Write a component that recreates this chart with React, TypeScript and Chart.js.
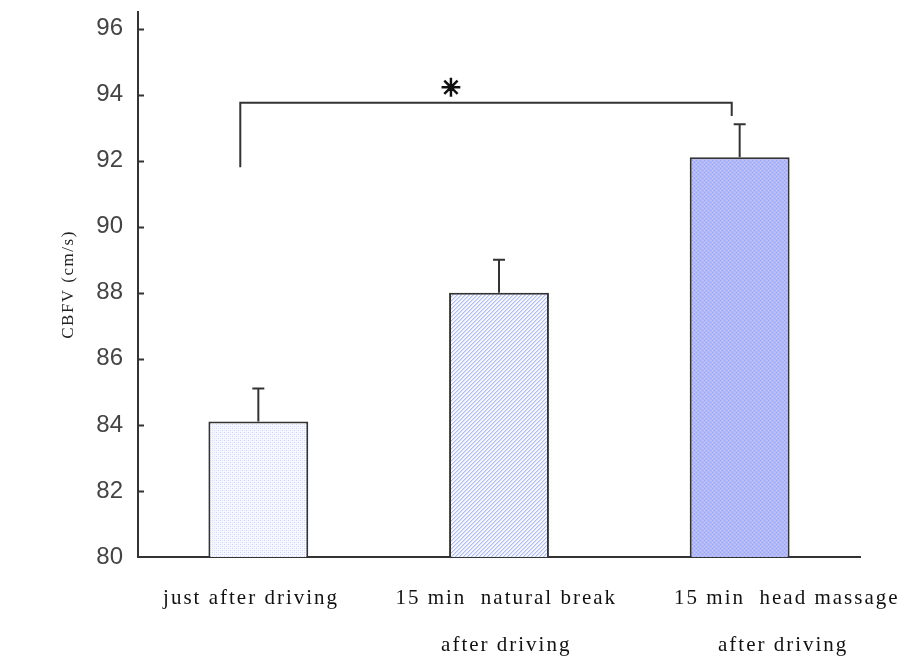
import React, { useEffect, useRef } from 'react';
import { Chart, registerables } from 'chart.js';

Chart.register(...registerables);

// ---- data ----
const categoryLabels: string[][] = [
  ['just after driving'],
  ['15 min  natural break', 'after driving'],
  ['15 min  head massage', 'after driving'],
];
const meanValues = [84.1, 88.0, 92.1];
const errorValues = [1.0, 1.0, 1.0];
const yTickValues = [80, 82, 84, 86, 88, 90, 92, 94, 96];
const yMin = 80;
const yMax = 96.5;
const bracketFromIndex = 0;
const bracketToIndex = 2;
const bracketLeftValue = 91.8;
const bracketTopValue = 93.75;
const bracketRightValue = 93.35;
const starValue = 94.15;
const starText = '✳';
const yTitle = 'CBFV (cm/s)';

// ---- style ----
const AXIS = '#333333';
// leading / trailing spaces per label line (visual nudges)
const LABEL_PAD: number[][][] = [
  [[0, 2]],
  [[2, 0], [2, 0]],
  [[13, 0], [12, 0]],
];
const BRACKET_LEFT_SHIFT = -0.075;
const BRACKET_RIGHT_SHIFT = -0.033;
const STAR_POS = 0.8;

function makePattern(kind: string): CanvasPattern | string {
  const c = document.createElement('canvas');
  const ctx = c.getContext('2d');
  if (!ctx) return '#eee';
  if (kind === 'dots') {
    c.width = 4; c.height = 4;
    ctx.fillStyle = '#f7f8fe';
    ctx.fillRect(0, 0, 4, 4);
    ctx.fillStyle = '#cfd4f1';
    ctx.fillRect(0, 0, 1, 1);
    ctx.fillRect(2, 2, 1, 1);
    ctx.fillStyle = '#e4e7f8';
    ctx.fillRect(2, 0, 1, 1);
    ctx.fillRect(0, 2, 1, 1);
  } else if (kind === 'diag') {
    c.width = 4; c.height = 4;
    ctx.fillStyle = '#f7f8ff';
    ctx.fillRect(0, 0, 4, 4);
    ctx.fillStyle = '#aebcf0';
    for (let i = 0; i < 4; i++) {
      ctx.fillRect(i, 3 - i, 1, 1);
    }
    ctx.fillStyle = '#d6ddf8';
    for (let i = 0; i < 4; i++) {
      ctx.fillRect((i + 1) % 4, 3 - i, 1, 1);
    }
  } else {
    c.width = 4; c.height = 4;
    ctx.fillStyle = '#b0baf6';
    ctx.fillRect(0, 0, 4, 4);
    ctx.fillStyle = '#93a3f2';
    ctx.fillRect(0, 0, 1, 1);
    ctx.fillRect(2, 2, 1, 1);
    ctx.fillStyle = '#c7c4f7';
    ctx.fillRect(2, 0, 1, 1);
    ctx.fillRect(0, 2, 1, 1);
  }
  const p = ctx.createPattern(c, 'repeat');
  return p || '#eee';
}

const overlayPlugin = {
  id: 'overlay',
  beforeDraw(chart: any) {
    const xs = chart.scales.x;
    const ys = chart.scales.y;
    if (xs && !xs.__ls) {
      const orig = xs.drawLabels.bind(xs);
      xs.drawLabels = (area: any) => {
        const c = chart.ctx as any;
        c.save();
        c.letterSpacing = '2px';
        orig(area);
        c.restore();
      };
      xs.__ls = true;
    }
    if (ys && !ys.__ls) {
      const origT = ys.drawTitle.bind(ys);
      ys.drawTitle = (...args: any[]) => {
        const c = chart.ctx as any;
        c.save();
        c.letterSpacing = '1.5px';
        origT(...args);
        c.restore();
      };
      ys.__ls = true;
    }
  },
  afterDatasetsDraw(chart: any) {
    const ctx = chart.ctx;
    const xs = chart.scales.x;
    const ys = chart.scales.y;
    const meta = chart.getDatasetMeta(0);
    ctx.save();
    ctx.strokeStyle = AXIS;
    ctx.lineWidth = 2;
    // inward tick marks on y axis
    const ax = chart.chartArea.left;
    yTickValues.forEach((v) => {
      if (v === yMin) return;
      const py = Math.round(ys.getPixelForValue(v)) + 0.5;
      ctx.beginPath();
      ctx.moveTo(ax, py);
      ctx.lineTo(ax + 6, py);
      ctx.stroke();
    });
    // error bars (upper only)
    meta.data.forEach((bar: any, i: number) => {
      const x = bar.x;
      const yTop = ys.getPixelForValue(meanValues[i]);
      const yErr = ys.getPixelForValue(meanValues[i] + errorValues[i]);
      ctx.beginPath();
      ctx.moveTo(x, yTop);
      ctx.lineTo(x, yErr);
      ctx.moveTo(x - 6, yErr);
      ctx.lineTo(x + 6, yErr);
      ctx.stroke();
    });
    // significance bracket
    const lx = xs.getPixelForValue(bracketFromIndex + BRACKET_LEFT_SHIFT);
    const rx = xs.getPixelForValue(bracketToIndex + BRACKET_RIGHT_SHIFT);
    const ly = ys.getPixelForValue(bracketLeftValue);
    const ty = ys.getPixelForValue(bracketTopValue);
    const ry = ys.getPixelForValue(bracketRightValue);
    ctx.beginPath();
    ctx.moveTo(lx, ly);
    ctx.lineTo(lx, ty);
    ctx.lineTo(rx, ty);
    ctx.lineTo(rx, ry);
    ctx.stroke();
    // asterisk
    ctx.fillStyle = '#111';
    ctx.strokeStyle = '#111';
    ctx.lineWidth = 1.3;
    ctx.font = 'bold 24px "DejaVu Sans"';
    ctx.textAlign = 'center';
    ctx.textBaseline = 'middle';
    const sx = xs.getPixelForValue(STAR_POS);
    const sy = ys.getPixelForValue(starValue);
    ctx.fillText(starText, sx, sy);
    ctx.strokeText(starText, sx, sy);
    ctx.restore();
  },
};

export default function App() {
  const ref = useRef<HTMLCanvasElement | null>(null);
  useEffect(() => {
    const canvas = ref.current;
    if (!canvas) return;
    const fills = [makePattern('dots'), makePattern('diag'), makePattern('dense')];
    const chart = new Chart(canvas, {
      type: 'bar',
      data: {
        labels: categoryLabels.map((l) => l.join(' ')),
        datasets: [
          {
            data: meanValues,
            backgroundColor: fills as any,
            borderColor: AXIS,
            borderWidth: 2,
            barPercentage: 0.415,
            categoryPercentage: 1,
          },
        ],
      },
      options: {
        responsive: false,
        animation: false,
        devicePixelRatio: 1,
        layout: { padding: { left: 0, right: 46, top: 12, bottom: 0 } },
        plugins: { legend: { display: false }, tooltip: { enabled: false } },
        scales: {
          x: {
            grid: { display: true, drawOnChartArea: false, drawTicks: false },
            border: { display: true, color: AXIS, width: 2 },
            ticks: {
              autoSkip: false,
              maxRotation: 0,
              minRotation: 0,
              padding: 18,
              color: '#111',
              font: { family: '"Liberation Serif", "Times New Roman", serif', size: 21, lineHeight: 47 / 21 },
              callback: (_v: any, i: number) =>
                categoryLabels[i].map((line, j) => {
                  const [lead, trail] = LABEL_PAD[i][j];
                  return ' '.repeat(lead) + line + ' '.repeat(trail);
                }),
            },
            afterFit: (s: any) => {
              s.height = 104;
            },
          },
          y: {
            min: yMin,
            max: yMax,
            afterBuildTicks: (s: any) => {
              s.ticks = yTickValues.map((v) => ({ value: v }));
            },
            grid: { display: true, drawOnChartArea: false, drawTicks: false },
            border: { display: true, color: AXIS, width: 2 },
            ticks: {
              padding: 15,
              color: '#444',
              font: { family: '"Liberation Sans", Arial, sans-serif', size: 24 },
            },
            title: {
              display: true,
              text: yTitle,
              color: '#222',
              font: { family: '"Liberation Serif", "Times New Roman", serif', size: 17 },
              padding: { top: 58, bottom: 0 },
            },
            afterFit: (s: any) => {
              s.width = 138;
              s.paddingTop = 0;
              s.paddingBottom = 0;
            },
          },
        },
      },
      plugins: [overlayPlugin],
    });
    return () => chart.destroy();
  }, []);
  return (
    <div style={{ position: 'fixed', left: 0, top: 0, width: 906, height: 661, background: '#fff' }}>
      <canvas ref={ref} width={906} height={661} style={{ width: 906, height: 661, display: 'block' }} />
    </div>
  );
}
